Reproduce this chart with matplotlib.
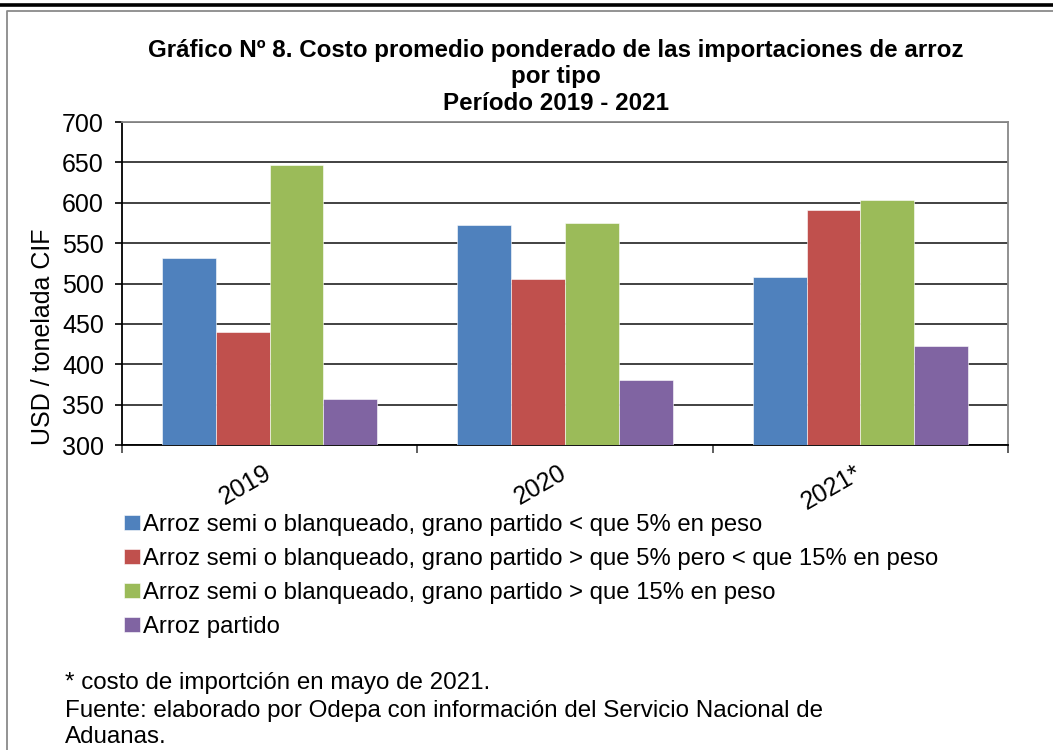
import numpy as np
import matplotlib.pyplot as plt
from matplotlib.lines import Line2D

plt.rcParams['font.family'] = ['Liberation Sans', 'DejaVu Sans']

# data
years = ['2019', '2020', '2021*']
series_names = ['Arroz semi o blanqueado, grano partido < que 5% en peso',
                'Arroz semi o blanqueado, grano partido > que 5% pero < que 15% en peso',
                'Arroz semi o blanqueado, grano partido > que 15% en peso',
                'Arroz partido']
menor_5 = [531, 572, 508]
entre_5_15 = [440, 505, 591]
mayor_15 = [647, 575, 603]
partido = [357, 380, 423]
colors = ['#4F81BD', '#C0504D', '#9BBB59', '#8064A2']

fig = plt.figure(figsize=(10.53, 7.5), dpi=100)
ax = fig.add_axes([122/1053, 1-445/750, 886/1053, 323/750])

x = np.arange(len(years))
w = 0.182
all_series = [menor_5, entre_5_15, mayor_15, partido]
bars = []
for i, vals in enumerate(all_series):
    b = ax.bar(x + (i-1.5)*w, np.array(vals)-300, w, bottom=300, color=colors[i],
               edgecolor='white', linewidth=0.4, zorder=3, label=series_names[i])
    bars.append(b)

ax.set_xlim(-0.5, 2.5)
ax.set_ylim(300, 700)
ax.set_yticks(range(300, 701, 50))
ax.yaxis.grid(True, color='#333333', linewidth=1.3, zorder=0)
ax.tick_params(axis='y', labelsize=18, length=5, width=1.2, color='black', pad=8)

ax.set_xticks(x)
ax.set_xticklabels(years, rotation=30, ha='right', va='center', rotation_mode='anchor', fontsize=18)
ax.set_xticks([-0.5, 0.5, 1.5, 2.5], minor=True)
ax.tick_params(axis='x', which='major', length=0, pad=19)
ax.tick_params(axis='x', which='minor', length=6, width=1.2, color='#444444', direction='out')

ax.spines['left'].set_color('black')
ax.spines['left'].set_linewidth(1.3)
ax.spines['bottom'].set_color('black')
ax.spines['bottom'].set_linewidth(1.3)
ax.spines['top'].set_color('#888888')
ax.spines['top'].set_linewidth(1.3)
ax.spines['right'].set_color('#888888')
ax.spines['right'].set_linewidth(1.3)

ax.set_ylabel('USD / tonelada CIF', fontsize=18, va='center')
ax.yaxis.set_label_coords((43-122)/886, (445-337)/323)

fig.text(556/1053, 1-50/750, 'Gráfico Nº 8. Costo promedio ponderado de las importaciones de arroz',
         ha='center', va='center', fontsize=17.4, fontweight='bold')
fig.text(556/1053, 1-77/750, 'por tipo', ha='center', va='center', fontsize=17.4, fontweight='bold')
fig.text(556/1053, 1-103/750, 'Período 2019 - 2021', ha='center', va='center', fontsize=17.4, fontweight='bold')

leg = fig.legend(handles=bars, labels=series_names, loc='upper left',
                 bbox_to_anchor=(124/1053, 1-514/750), frameon=False, fontsize=17.2,
                 handlelength=0.67, handleheight=0.55, handletextpad=0.12, labelspacing=0.5,
                 borderaxespad=0, borderpad=0)

fig.text(65/1053, 1-683/750, '* costo de importción en mayo de 2021.', fontsize=17.4, va='center')
fig.text(65/1053, 1-711/750, 'Fuente: elaborado por Odepa con información del Servicio Nacional de',
         fontsize=17.4, va='center')
fig.text(65/1053, 1-737/750, 'Aduanas.', fontsize=17.4, va='center')

# frame around the chart
fig.add_artist(Line2D([0, 1], [1-5/750, 1-5/750], color='black', linewidth=2.6, transform=fig.transFigure))
fig.add_artist(Line2D([7/1053, 7/1053, 1], [0, 1-11/750, 1-11/750], color='#8a8a8a',
                      linewidth=1.3, transform=fig.transFigure))

fig.savefig('out.png', dpi=100)
